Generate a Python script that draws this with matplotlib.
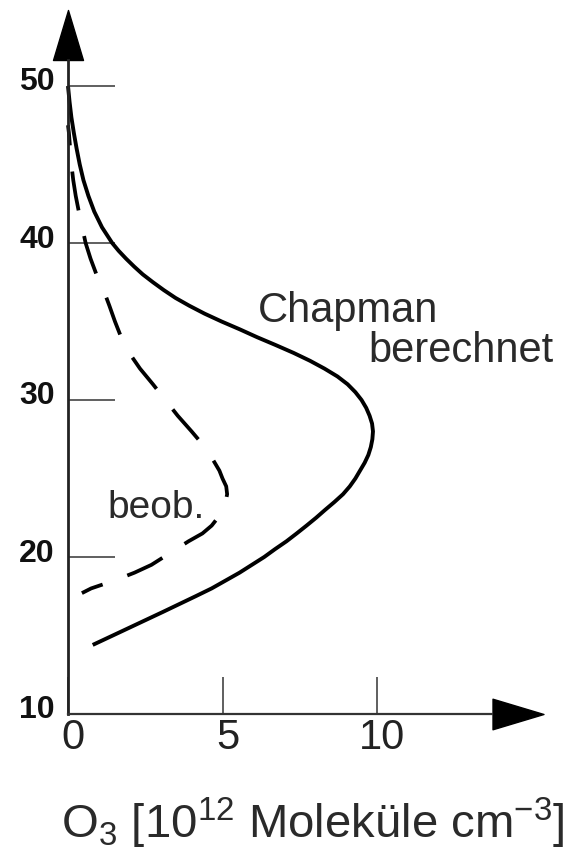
import matplotlib
matplotlib.use('Agg')
import matplotlib.pyplot as plt
from matplotlib.path import Path
from matplotlib.transforms import ScaledTranslation

plt.rcParams['font.family'] = ['Liberation Sans', 'DejaVu Sans']
plt.rcParams['mathtext.fontset'] = 'custom'
plt.rcParams['mathtext.rm'] = 'Liberation Sans'
plt.rcParams['mathtext.it'] = 'Liberation Sans:italic'
plt.rcParams['mathtext.bf'] = 'Liberation Sans:bold'

# ---------------- data ----------------
chapman_alt = [14.4, 15, 15.5, 16, 16.5, 17, 17.5, 18, 18.5, 19, 19.5, 20, 20.5,
               21, 21.5, 22, 22.5, 23, 23.5, 24, 24.5, 25, 25.5, 26, 26.5, 27,
               27.5, 28, 28.5, 29, 29.5, 30, 30.5, 31, 31.5, 32, 32.5, 33, 33.5,
               34, 34.5, 35, 35.5, 36, 36.5, 37, 37.5, 38, 38.5, 39, 39.5, 40,
               41, 42, 43, 44, 45, 46, 47, 48, 49, 50]
chapman_o3 = [0.8, 1.45, 1.99, 2.53, 3.07, 3.6, 4.13, 4.65, 5.1, 5.55, 5.95,
              6.35, 6.7, 7.07, 7.4, 7.72, 8.03, 8.32, 8.62, 8.9, 9.12, 9.3,
              9.45, 9.6, 9.72, 9.8, 9.85, 9.87, 9.84, 9.76, 9.65, 9.5, 9.3,
              9.05, 8.72, 8.3, 7.83, 7.3, 6.72, 6.12, 5.56, 4.97, 4.42, 3.93,
              3.48, 3.1, 2.75, 2.42, 2.14, 1.88, 1.64, 1.43, 1.1, 0.85, 0.66,
              0.5, 0.38, 0.28, 0.19, 0.11, 0.05, 0.0]

beob_alt = [17.7, 18, 18.5, 19, 19.5, 20, 20.5, 21, 21.5, 22, 22.5, 23, 23.5,
            24, 24.5, 25, 25.5, 26, 26.5, 27, 28, 29, 30, 31, 32, 33, 34, 35,
            36, 37, 38, 39, 40, 41, 42, 43, 44, 45, 46, 47, 47.5]
beob_o3 = [0.45, 0.75, 1.5, 2.15, 2.7, 3.1, 3.5, 3.9, 4.35, 4.65, 4.85, 5.0,
           5.1, 5.15, 5.12, 5.0, 4.9, 4.75, 4.6, 4.43, 4.0, 3.55, 3.15, 2.75,
           2.33, 1.98, 1.72, 1.52, 1.34, 1.15, 0.92, 0.73, 0.57, 0.46, 0.35,
           0.25, 0.17, 0.11, 0.07, 0.03, 0.0]

x_ticks = [0, 5, 10]
x_tick_labels = ['0', '5', '10']
y_ticks = [10, 20, 30, 40, 50]
y_tick_labels = ['10', '20', '30', '40', '50']

label_chapman = 'Chapman'
label_berechnet = 'berechnet'
label_beob = 'beob.'
x_label = r'O$_3$ [10$^{12}$ Moleküle cm$^{-3}$]'

# ---------------- layout ----------------
W, H, DPI = 575, 849, 100
px_x = 30.9      # pixels per x unit
px_y = 15.7      # pixels per y unit
x0_px, y10_px = 68, 714

fig = plt.figure(figsize=(W / DPI, H / DPI), dpi=DPI)
ax = fig.add_axes([0, 0, 1, 1])
xmin = -x0_px / px_x
ax.set_xlim(xmin, xmin + W / px_x)
ymin = 10 - (H - y10_px) / px_y
ax.set_ylim(ymin, ymin + H / px_y)

axis_col = '#222222'
for s in ['top', 'right']:
    ax.spines[s].set_visible(False)
ax.spines['left'].set_position(('data', 0))
ax.spines['bottom'].set_position(('data', 10))
y_top = 10 + (y10_px - 60) / px_y
x_right = (492 - x0_px) / px_x
ax.spines['left'].set_bounds(10, y_top)
ax.spines['bottom'].set_bounds(0, x_right)
ax.spines['left'].set_linewidth(2.0)
ax.spines['bottom'].set_linewidth(1.6)
ax.spines['left'].set_color(axis_col)
ax.spines['bottom'].set_color('#333333')

ax.set_xticks(x_ticks)
ax.set_xticklabels(x_tick_labels, fontsize=30, color='#222222')
ax.set_yticks(y_ticks)
ax.set_yticklabels(y_tick_labels, fontsize=23, fontweight='bold', color='#111111')
ax.tick_params(axis='y', direction='in', length=33.8, width=1.2, color='#444444', pad=9.4)
ax.tick_params(axis='x', direction='in', length=26.6, width=1.2, color='#444444', pad=3)

for t in ax.yaxis.get_major_ticks():
    t.label1.set_transform(t.label1.get_transform() +
                           ScaledTranslation(0, 7 / DPI, fig.dpi_scale_trans))
for t in ax.xaxis.get_major_ticks():
    t.label1.set_transform(t.label1.get_transform() +
                           ScaledTranslation(5 / DPI, 0, fig.dpi_scale_trans))

# arrow heads
up = Path([(0, 1), (-0.6, -1), (0.6, -1), (0, 1)],
          [Path.MOVETO, Path.LINETO, Path.LINETO, Path.CLOSEPOLY])
right = Path([(1, 0), (-1, 0.6), (-1, -0.6), (1, 0)],
             [Path.MOVETO, Path.LINETO, Path.LINETO, Path.CLOSEPOLY])
ax.plot([0], [10 + (y10_px - 35) / px_y], marker=up, ms=36, color='black',
        clip_on=False, linestyle='none')
ax.plot([(517.5 - x0_px) / px_x], [10], marker=right, ms=36.7, color='black',
        clip_on=False, linestyle='none')

# curves
ax.plot(chapman_o3, chapman_alt, color='black', lw=2.8, solid_capstyle='butt',
        solid_joinstyle='round')
ax.plot(beob_o3, beob_alt, color='black', lw=2.7,
        linestyle=(4.5, (10.5, 7)), dash_capstyle='butt', dash_joinstyle='round')

# annotations
txt_col = '#2a2a2a'
ax.text(6.15, 34.97, label_chapman, fontsize=30, ha='left', va='baseline', color=txt_col)
ax.text(9.71, 32.42, label_berechnet, fontsize=30, ha='left', va='baseline', color=txt_col)
ax.text(1.29, 22.48, label_beob, fontsize=28, ha='left', va='baseline', color=txt_col)

fig.text(312.5 / W, 11 / H, x_label, ha='center', va='baseline', fontsize=34,
         color=txt_col)

fig.savefig('out.png', dpi=DPI)
